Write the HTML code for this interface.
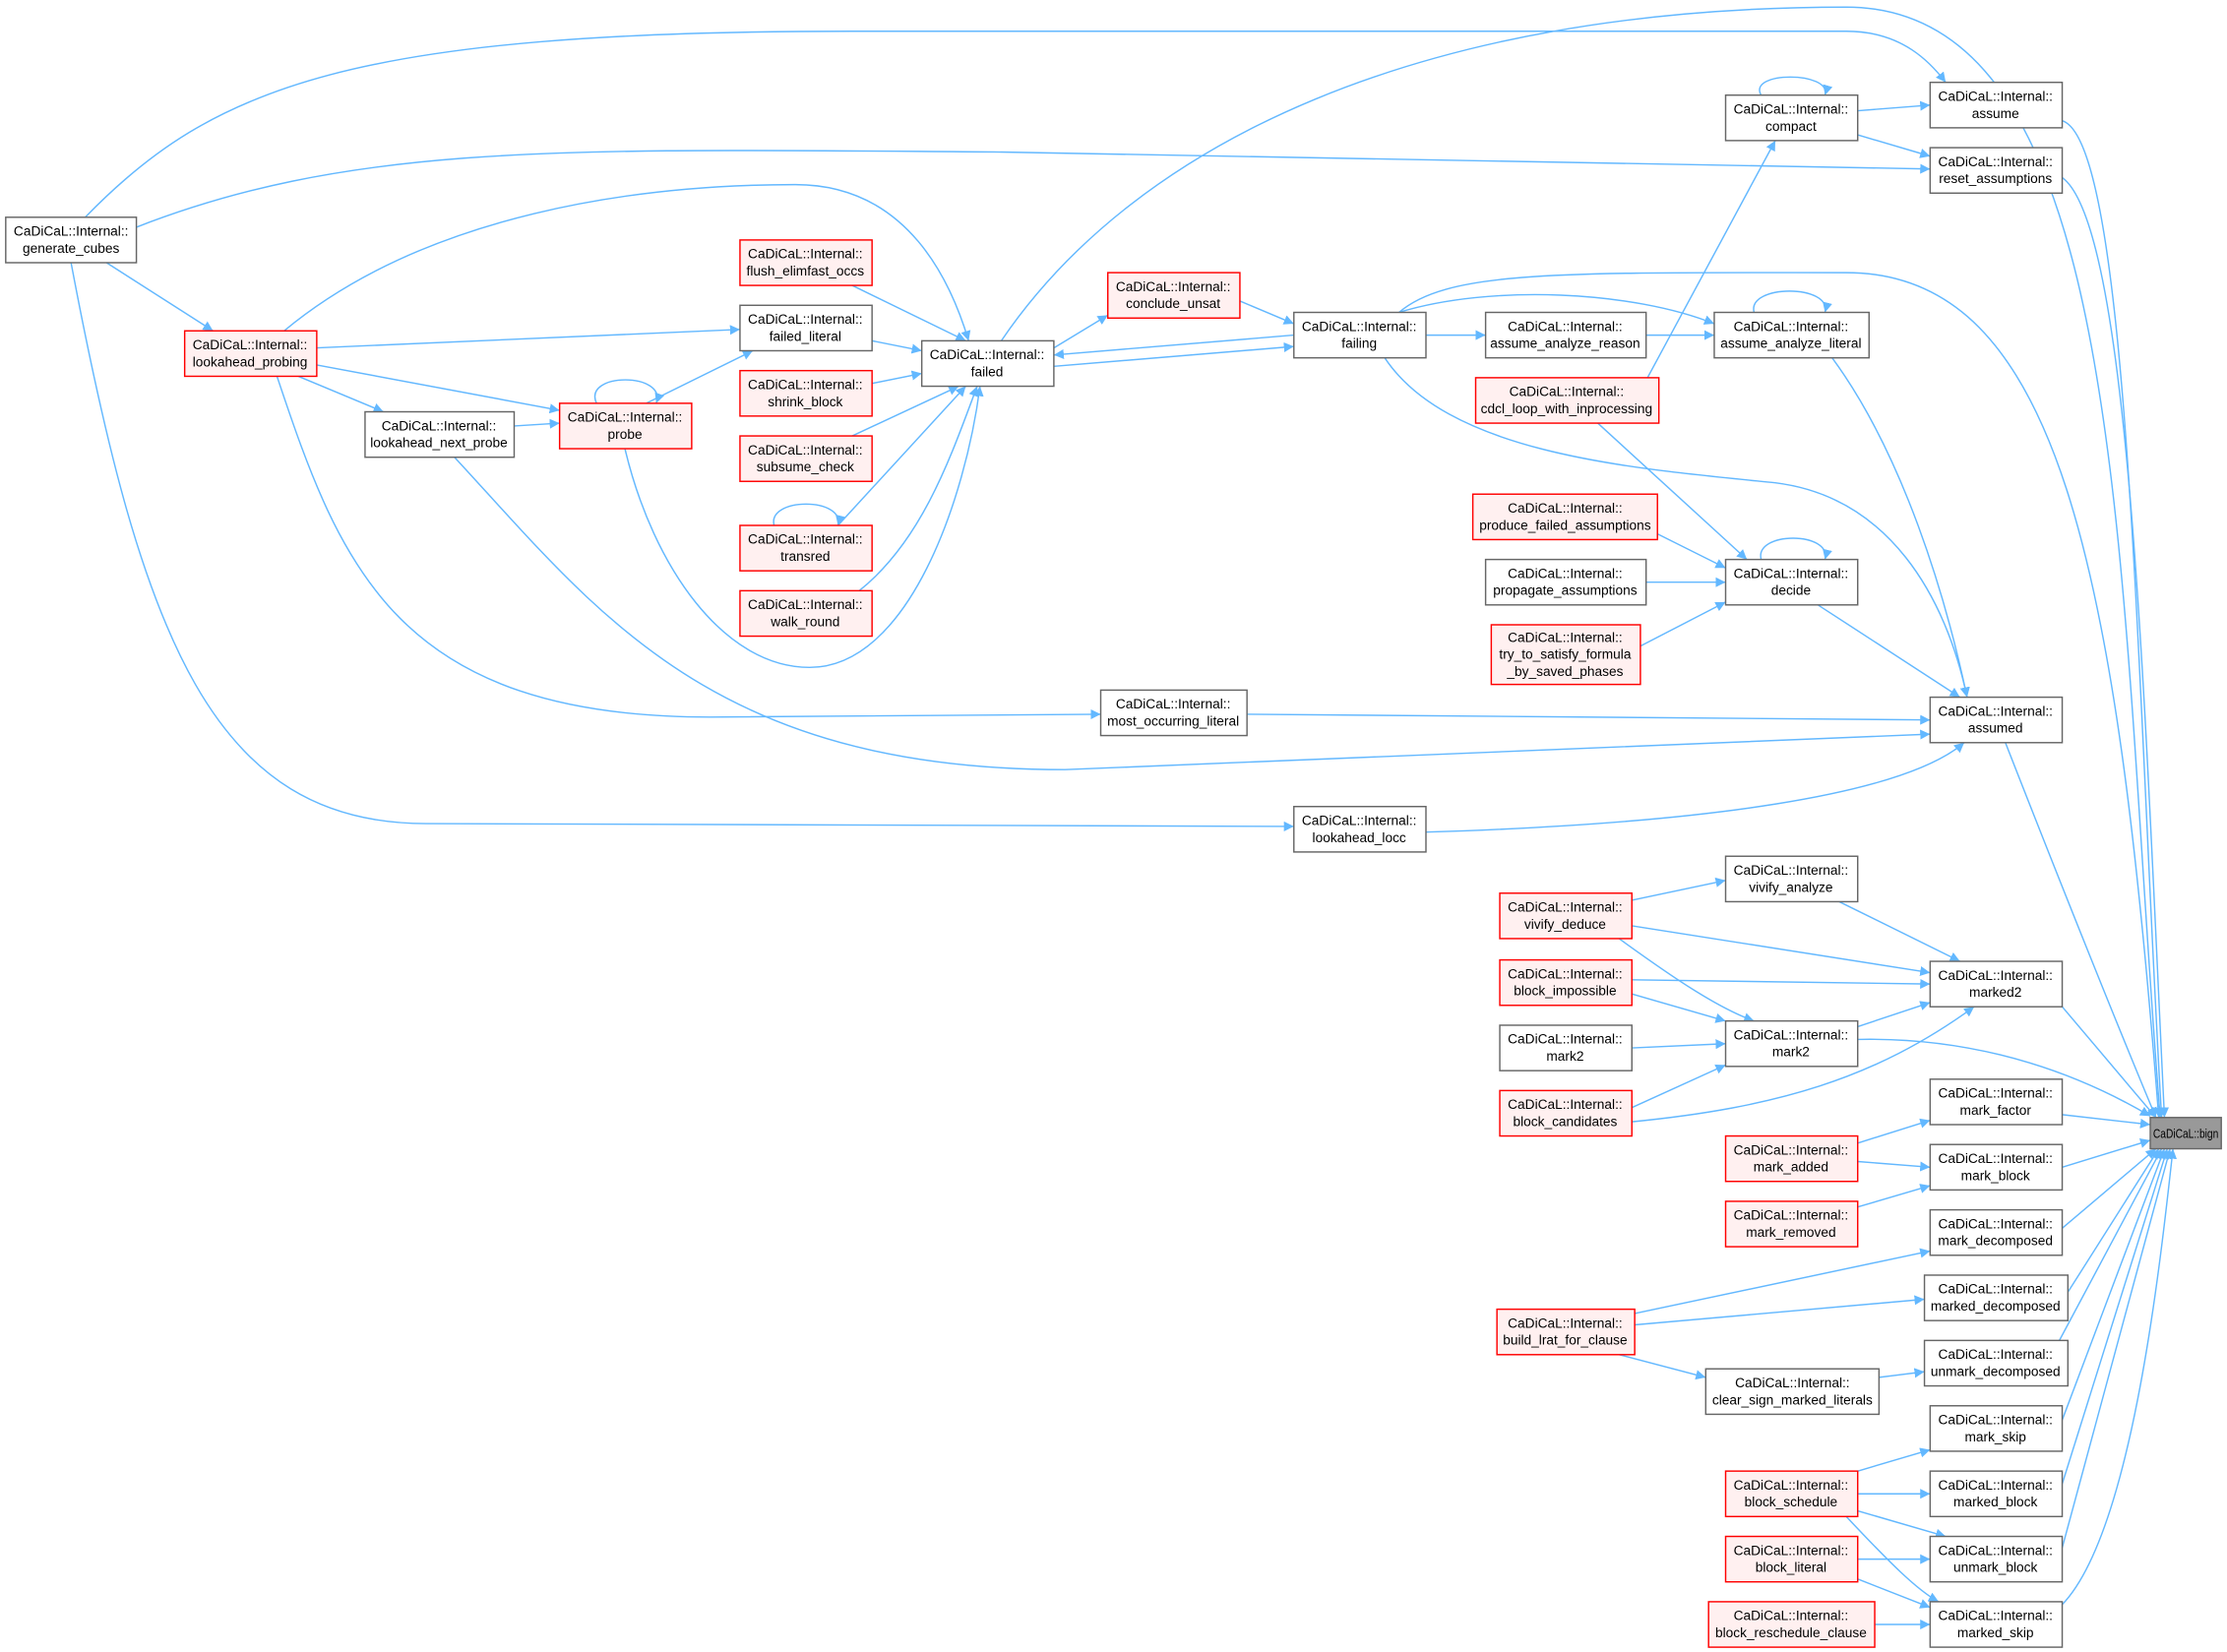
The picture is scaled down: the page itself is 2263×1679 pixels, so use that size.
<!DOCTYPE html>
<html><head><meta charset="utf-8"><style>html,body{margin:0;padding:0;background:#fff}svg{display:block}</style></head><body>
<svg width="2263" height="1679" viewBox="0 0 1568 1163.4" xmlns="http://www.w3.org/2000/svg" font-family="Liberation Sans, sans-serif" font-size="9.5">
<defs><marker id="a" viewBox="0 0 10 10" refX="10" refY="5" markerWidth="7" markerHeight="7" orient="auto" markerUnits="userSpaceOnUse"><path d="M0,0L10,5L0,10z" fill="#63b8ff"/></marker></defs>
<g fill="none" stroke="#63b8ff" stroke-width="1" marker-end="url(#a)">
<path d="M1452,85 C1500,100 1505,500 1522,787"/>
<path d="M705,240 C800,100 1000,5 1300,5 C1500,5 1490,400 1521,787"/>
<path d="M60,153 C150,60 250,22 600,22 L1300,22 C1340,22 1360,45 1370,58"/>
<path d="M96,160 C250,100 400,105 700,107 L1359,119"/>
<path d="M1452,125 C1500,160 1510,500 1524,787"/>
<path d="M1240,67 C1230,50 1290,50 1285,67"/>
<path d="M1308,78 L1359,74"/>
<path d="M1308,95 L1359,110"/>
<path d="M1160,266 L1250,99"/>
<path d="M75,185 L150,233"/>
<path d="M200,233 C300,150 450,130 560,130 C640,130 670,200 682,240"/>
<path d="M223,245 L521,232"/>
<path d="M223,257 L394,289"/>
<path d="M210,265 L270,290"/>
<path d="M50,185 C100,450 150,580 300,580 L911,582"/>
<path d="M195,265 C240,400 280,505 500,505 L775,503"/>
<path d="M320,322 C420,430 500,542 750,542 L1359,517"/>
<path d="M878,503 L1359,507"/>
<path d="M1004,586 C1200,580 1340,560 1383,523"/>
<path d="M362,300 L394,298"/>
<path d="M420,284 C410,262 470,262 462,284"/>
<path d="M455,284 L530,247"/>
<path d="M440,316 C460,400 510,470 570,470 C640,470 680,350 690,272"/>
<path d="M600,201 L680,240"/>
<path d="M614,240 L649,247"/>
<path d="M614,270 L649,263"/>
<path d="M600,307 L675,272"/>
<path d="M590,370 L680,272"/>
<path d="M545,370 C540,350 595,350 590,370"/>
<path d="M605,416 C650,380 670,320 688,272"/>
<path d="M742,245 L780,222"/>
<path d="M873,212 L911,228"/>
<path d="M911,236 L742,250"/>
<path d="M742,258 L911,244"/>
<path d="M1004,236 L1046,236"/>
<path d="M1159,236 L1207,236"/>
<path d="M985,220 C1050,200 1150,205 1207,228"/>
<path d="M1235,220 C1230,200 1290,200 1285,220"/>
<path d="M985,220 C1020,190 1100,192 1300,192 C1450,192 1490,400 1520,787"/>
<path d="M975,252 C1020,320 1150,330 1250,340 C1330,350 1370,420 1385,491"/>
<path d="M1290,252 C1340,320 1370,420 1385,491"/>
<path d="M1280,426 L1380,491"/>
<path d="M1125,298 L1230,394"/>
<path d="M1167,376 L1215,400"/>
<path d="M1159,410 L1215,410"/>
<path d="M1155,455 L1215,424"/>
<path d="M1240,394 C1235,374 1290,374 1285,394"/>
<path d="M1412,523 C1450,620 1490,720 1518,787"/>
<path d="M1149,634 L1215,620"/>
<path d="M1295,635 L1380,677"/>
<path d="M1149,652 L1359,685"/>
<path d="M1149,690 L1359,693"/>
<path d="M1140,661 C1180,690 1210,710 1235,719"/>
<path d="M1149,700 L1215,719"/>
<path d="M1149,738 L1215,735"/>
<path d="M1149,780 L1215,750"/>
<path d="M1149,790 C1250,780 1320,760 1390,709"/>
<path d="M1308,723 L1359,706"/>
<path d="M1308,732 C1400,730 1470,760 1514,786"/>
<path d="M1452,709 L1518,787"/>
<path d="M1452,785 L1514,792"/>
<path d="M1308,805 L1359,789"/>
<path d="M1308,818 L1359,822"/>
<path d="M1308,850 L1359,835"/>
<path d="M1452,822 L1514,803"/>
<path d="M1452,865 L1518,809"/>
<path d="M1151,925 L1359,881"/>
<path d="M1151,933 L1355,915"/>
<path d="M1140,954 L1201,970"/>
<path d="M1323,970 L1355,966"/>
<path d="M1456,910 L1520,809"/>
<path d="M1450,944 L1522,809"/>
<path d="M1452,1000 L1524,809"/>
<path d="M1452,1045 L1526,809"/>
<path d="M1452,1090 L1528,809"/>
<path d="M1452,1130 C1500,1080 1520,900 1530,809"/>
<path d="M1308,1036 L1359,1021"/>
<path d="M1308,1052 L1359,1052"/>
<path d="M1308,1064 L1370,1082"/>
<path d="M1300,1068 C1330,1100 1350,1120 1365,1128"/>
<path d="M1308,1098 L1359,1098"/>
<path d="M1308,1112 L1359,1132"/>
<path d="M1320,1144 L1359,1144"/>
</g>
<g text-anchor="middle" fill="#000">
<rect x="1514" y="787" width="50" height="22" fill="#999" stroke="#666"/><text x="1539" y="801.5" font-size="9" textLength="46" lengthAdjust="spacingAndGlyphs">CaDiCaL::bign</text>
</g>
<g text-anchor="middle">
<g fill="#fff" stroke="#666">
<rect x="4" y="153" width="92" height="32"/><rect x="1359" y="58" width="93" height="32"/><rect x="1215" y="67" width="93" height="32"/><rect x="1359" y="104" width="93" height="32"/><rect x="521" y="215" width="93" height="32"/><rect x="649" y="240" width="93" height="32"/><rect x="911" y="220" width="93" height="32"/><rect x="1046" y="220" width="113" height="32"/><rect x="1207" y="220" width="109" height="32"/><rect x="257" y="290" width="105" height="32"/><rect x="1046" y="394" width="113" height="32"/><rect x="1215" y="394" width="93" height="32"/><rect x="775" y="486" width="103" height="32"/><rect x="1359" y="491" width="93" height="32"/><rect x="911" y="568" width="93" height="32"/><rect x="1215" y="603" width="93" height="32"/><rect x="1359" y="677" width="93" height="32"/><rect x="1056" y="722" width="93" height="32"/><rect x="1215" y="719" width="93" height="32"/><rect x="1359" y="760" width="93" height="32"/><rect x="1359" y="806" width="93" height="32"/><rect x="1359" y="852" width="93" height="32"/><rect x="1355" y="898" width="101" height="32"/><rect x="1355" y="944" width="101" height="32"/><rect x="1201" y="964" width="122" height="32"/><rect x="1359" y="990" width="93" height="32"/><rect x="1359" y="1036" width="93" height="32"/><rect x="1359" y="1082" width="93" height="32"/><rect x="1359" y="1128" width="93" height="32"/>
</g>
<g fill="#fff0f0" stroke="#ff0000">
<rect x="130" y="233" width="93" height="32"/><rect x="521" y="169" width="93" height="32"/><rect x="780" y="192" width="93" height="32"/><rect x="521" y="261" width="93" height="32"/><rect x="394" y="284" width="93" height="32"/><rect x="1039" y="266" width="129" height="32"/><rect x="521" y="307" width="93" height="32"/><rect x="1037" y="348" width="130" height="32"/><rect x="521" y="370" width="93" height="32"/><rect x="521" y="416" width="93" height="32"/><rect x="1050" y="440" width="105" height="42"/><rect x="1056" y="629" width="93" height="32"/><rect x="1056" y="676" width="93" height="32"/><rect x="1056" y="768" width="93" height="32"/><rect x="1215" y="800" width="93" height="32"/><rect x="1215" y="846" width="93" height="32"/><rect x="1054" y="922" width="97" height="32"/><rect x="1215" y="1036" width="93" height="32"/><rect x="1215" y="1082" width="93" height="32"/><rect x="1203" y="1128" width="117" height="32"/>
</g>
<g fill="#000">
<text x="50" y="166">CaDiCaL::Internal::</text><text x="50" y="178">generate_cubes</text>
<text x="1405" y="71">CaDiCaL::Internal::</text><text x="1405" y="83">assume</text>
<text x="1261" y="80">CaDiCaL::Internal::</text><text x="1261" y="92">compact</text>
<text x="1405" y="117">CaDiCaL::Internal::</text><text x="1405" y="129">reset_assumptions</text>
<text x="176" y="246">CaDiCaL::Internal::</text><text x="176" y="258">lookahead_probing</text>
<text x="567" y="182">CaDiCaL::Internal::</text><text x="567" y="194">flush_elimfast_occs</text>
<text x="567" y="228">CaDiCaL::Internal::</text><text x="567" y="240">failed_literal</text>
<text x="826" y="205">CaDiCaL::Internal::</text><text x="826" y="217">conclude_unsat</text>
<text x="695" y="253">CaDiCaL::Internal::</text><text x="695" y="265">failed</text>
<text x="957" y="233">CaDiCaL::Internal::</text><text x="957" y="245">failing</text>
<text x="1102" y="233">CaDiCaL::Internal::</text><text x="1102" y="245">assume_analyze_reason</text>
<text x="1261" y="233">CaDiCaL::Internal::</text><text x="1261" y="245">assume_analyze_literal</text>
<text x="567" y="274">CaDiCaL::Internal::</text><text x="567" y="286">shrink_block</text>
<text x="309" y="303">CaDiCaL::Internal::</text><text x="309" y="315">lookahead_next_probe</text>
<text x="440" y="297">CaDiCaL::Internal::</text><text x="440" y="309">probe</text>
<text x="1103" y="279">CaDiCaL::Internal::</text><text x="1103" y="291">cdcl_loop_with_inprocessing</text>
<text x="567" y="320">CaDiCaL::Internal::</text><text x="567" y="332">subsume_check</text>
<text x="1102" y="361">CaDiCaL::Internal::</text><text x="1102" y="373">produce_failed_assumptions</text>
<text x="567" y="383">CaDiCaL::Internal::</text><text x="567" y="395">transred</text>
<text x="1102" y="407">CaDiCaL::Internal::</text><text x="1102" y="419">propagate_assumptions</text>
<text x="1261" y="407">CaDiCaL::Internal::</text><text x="1261" y="419">decide</text>
<text x="567" y="429">CaDiCaL::Internal::</text><text x="567" y="441">walk_round</text>
<text x="1102" y="452">CaDiCaL::Internal::</text><text x="1102" y="464">try_to_satisfy_formula</text><text x="1102" y="476">_by_saved_phases</text>
<text x="826" y="499">CaDiCaL::Internal::</text><text x="826" y="511">most_occurring_literal</text>
<text x="1405" y="504">CaDiCaL::Internal::</text><text x="1405" y="516">assumed</text>
<text x="957" y="581">CaDiCaL::Internal::</text><text x="957" y="593">lookahead_locc</text>
<text x="1261" y="616">CaDiCaL::Internal::</text><text x="1261" y="628">vivify_analyze</text>
<text x="1102" y="642">CaDiCaL::Internal::</text><text x="1102" y="654">vivify_deduce</text>
<text x="1102" y="689">CaDiCaL::Internal::</text><text x="1102" y="701">block_impossible</text>
<text x="1405" y="690">CaDiCaL::Internal::</text><text x="1405" y="702">marked2</text>
<text x="1102" y="735">CaDiCaL::Internal::</text><text x="1102" y="747">mark2</text>
<text x="1261" y="732">CaDiCaL::Internal::</text><text x="1261" y="744">mark2</text>
<text x="1102" y="781">CaDiCaL::Internal::</text><text x="1102" y="793">block_candidates</text>
<text x="1405" y="773">CaDiCaL::Internal::</text><text x="1405" y="785">mark_factor</text>
<text x="1261" y="813">CaDiCaL::Internal::</text><text x="1261" y="825">mark_added</text>
<text x="1405" y="819">CaDiCaL::Internal::</text><text x="1405" y="831">mark_block</text>
<text x="1261" y="859">CaDiCaL::Internal::</text><text x="1261" y="871">mark_removed</text>
<text x="1405" y="865">CaDiCaL::Internal::</text><text x="1405" y="877">mark_decomposed</text>
<text x="1405" y="911">CaDiCaL::Internal::</text><text x="1405" y="923">marked_decomposed</text>
<text x="1102" y="935">CaDiCaL::Internal::</text><text x="1102" y="947">build_lrat_for_clause</text>
<text x="1405" y="957">CaDiCaL::Internal::</text><text x="1405" y="969">unmark_decomposed</text>
<text x="1262" y="977">CaDiCaL::Internal::</text><text x="1262" y="989">clear_sign_marked_literals</text>
<text x="1405" y="1003">CaDiCaL::Internal::</text><text x="1405" y="1015">mark_skip</text>
<text x="1261" y="1049">CaDiCaL::Internal::</text><text x="1261" y="1061">block_schedule</text>
<text x="1405" y="1049">CaDiCaL::Internal::</text><text x="1405" y="1061">marked_block</text>
<text x="1261" y="1095">CaDiCaL::Internal::</text><text x="1261" y="1107">block_literal</text>
<text x="1405" y="1095">CaDiCaL::Internal::</text><text x="1405" y="1107">unmark_block</text>
<text x="1261" y="1141">CaDiCaL::Internal::</text><text x="1261" y="1153">block_reschedule_clause</text>
<text x="1405" y="1141">CaDiCaL::Internal::</text><text x="1405" y="1153">marked_skip</text>
</g>
</g>
</svg>
</body></html>
